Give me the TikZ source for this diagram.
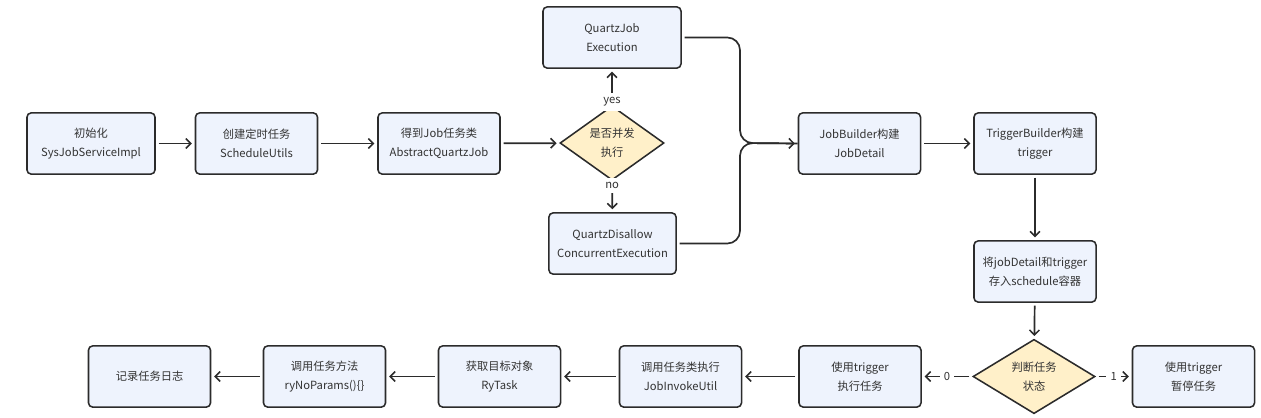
\documentclass[tikz,border=0pt]{standalone}
\usepackage{fontspec}
\setmainfont{Noto Sans CJK SC}
\usetikzlibrary{arrows.meta,shapes.geometric}
\definecolor{boxfill}{HTML}{EEF3FD}
\definecolor{decfill}{HTML}{FFF0C9}
\definecolor{edge}{HTML}{2B2B2B}
\definecolor{txt}{HTML}{333333}
\tikzset{
>={Straight Barb[length=3.5pt,width=7pt,line width=1.1pt]},
  stepbox/.style={
    rectangle,
    rounded corners=3pt,
    fill=boxfill,
    draw=edge, line width=1.1pt,
    minimum width=3.05cm,
    minimum height=1.53cm,
    align=center,
    text=txt,
    font=\fontsize{8}{13.5}\selectfont},
  decision/.style={
    diamond,
    fill=decfill,
    draw=edge, line width=1.1pt,
    inner sep=0pt,
    minimum width=2.6cm,
    minimum height=1.5cm,
    align=center,
    text=txt,
    font=\fontsize{8}{13.5}\selectfont},
  line/.style={draw=edge, line width=1.2pt, ->, shorten >=2pt, shorten <=2pt},
  lbl/.style={fill=white, text=txt, inner sep=3pt, font=\fontsize{8}{10}\selectfont},
}
\begin{document}
\begin{tikzpicture}[x=0.025cm, y=-0.025cm]
	\useasboundingbox (0,0) rectangle (1261,417);

	% upper row
	\node[stepbox, minimum width=3.2cm] (init) at (91,143.5) {初始化\\SysJobServiceImpl};
	\node[stepbox] (sched) at (256.5,143.5) {创建定时任务\\ScheduleUtils};
	\node[stepbox] (getjob) at (439,143.5) {得到Job任务类\\AbstractQuartzJob};
	\node[decision] (conc) at (612,143) {是否并发\\执行};
	\node[stepbox, minimum width=3.45cm] (qje) at (612,37.5) {QuartzJob\\Execution};
	\node[stepbox, minimum width=3.18cm] (qdc) at (612.5,243.5) {QuartzDisallow\\ConcurrentExecution};
	\node[stepbox] (jb) at (859.5,143.5) {JobBuilder构建\\JobDetail};
	\node[stepbox] (tb) at (1035,143.5) {TriggerBuilder构建\\trigger};
	\node[stepbox] (store) at (1035,271.5) {将jobDetail和trigger\\存入schedule容器};

	% lower row
	\node[decision, minimum width=3.05cm, minimum height=1.55cm] (state) at (1034,376.5) {判断任务\\状态};
	\node[stepbox] (pause) at (1193.5,376.5) {使用trigger\\暂停任务};
	\node[stepbox] (run) at (860,376.5) {使用trigger\\执行任务};
	\node[stepbox] (invoke) at (680.5,376.5) {调用任务类执行\\JobInvokeUtil};
	\node[stepbox] (target) at (499.5,376.5) {获取目标对象\\RyTask};
	\node[stepbox] (method) at (324.5,376.5) {调用任务方法\\ryNoParams()\{\}};
	\node[stepbox] (log) at (149.5,376.5) {记录任务日志};

	\coordinate (brace) at (740,143);

	\path[line] (init) -- (sched);
	\path[line] (sched) -- (getjob);
	\path[line] (getjob) -- (conc);
	\path[line] (conc) -- node[lbl, pos=0.08] {yes} (qje);
	\path[line] (conc) -- node[lbl, pos=0.15] {no} (qdc);
	\draw[draw=edge, line width=1.2pt, rounded corners=9pt, shorten <=2pt] (qje.east) -| (brace) -- (jb.west);
	\path[line, rounded corners=9pt] (qdc.east) -| (brace) -- (jb.west);
	\path[line] (jb) -- (tb);
	\path[line] (tb) -- (store);
	\path[line] (store) -- (state);
	\path[line] (state) -- node[lbl] {1} (pause);
	\path[line] (state) -- node[lbl] {0} (run);
	\path[line] (run) -- (invoke);
	\path[line] (invoke) -- (target);
	\path[line] (target) -- (method);
	\path[line] (method) -- (log);

\end{tikzpicture}
\end{document}
